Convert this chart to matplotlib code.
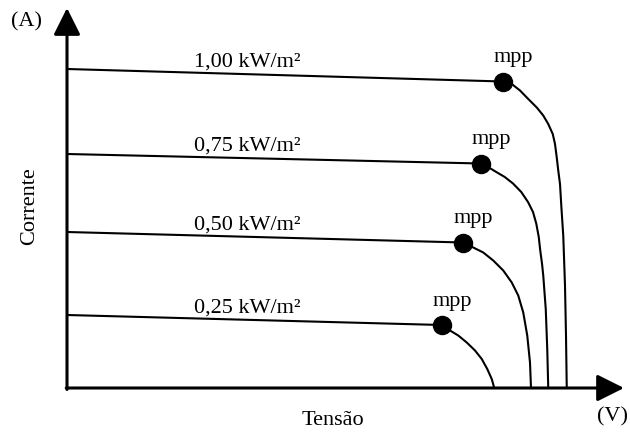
import numpy as np
import matplotlib
matplotlib.use('Agg')
import matplotlib.pyplot as plt

plt.rcParams['font.family'] = ['Liberation Serif', 'DejaVu Serif']

# irradiance labels
irr_labels = ['1,00 kW/m²', '0,75 kW/m²', '0,50 kW/m²', '0,25 kW/m²']

# I-V curves (tensão in V, corrente in A, arbitrary scale)
v_100 = [0, 17.43, 17.79, 18.12, 18.45, 18.79, 19.05, 19.25, 19.43, 19.52, 19.59, 19.65, 19.72,
         19.78, 19.85, 19.92, 19.96, 19.99]
i_100 = [6.38, 6.13, 6.08, 5.95, 5.78, 5.61, 5.45, 5.28, 5.08, 4.88, 4.61, 4.35, 4.08,
         3.58, 3.05, 2.05, 1.05, 0]

v_075 = [0, 16.55, 16.84, 17.17, 17.51, 17.84, 18.17, 18.44, 18.64, 18.77, 18.87, 18.93, 19.0,
         19.05, 19.15, 19.21, 19.25]
i_075 = [4.68, 4.49, 4.42, 4.32, 4.22, 4.09, 3.92, 3.72, 3.52, 3.29, 3.02, 2.75, 2.49,
         2.25, 1.58, 0.78, 0]

v_050 = [0, 15.83, 16.25, 16.65, 17.05, 17.45, 17.79, 18.05, 18.25, 18.41, 18.52, 18.56]
i_050 = [3.12, 2.91, 2.81, 2.71, 2.55, 2.35, 2.11, 1.85, 1.51, 1.05, 0.51, 0]

v_025 = [0, 14.99, 15.32, 15.65, 15.99, 16.32, 16.59, 16.81, 16.99, 17.09]
i_025 = [1.46, 1.26, 1.15, 1.05, 0.91, 0.75, 0.58, 0.38, 0.18, 0]

# maximum power points
mpp_v = [17.43, 16.55, 15.83, 14.99]
mpp_i = [6.13, 4.49, 2.91, 1.26]

curves = [(v_100, i_100), (v_075, i_075), (v_050, i_050), (v_025, i_025)]

fig = plt.figure(figsize=(6.3, 4.35), dpi=100)
ax = fig.add_axes([0, 0, 1, 1])
ax.set_xlim(-2.68, 22.52)
ax.set_ylim(-0.92, 7.78)
ax.axis('off')

# axes with arrow heads
arrow = dict(arrowstyle='-|>,head_length=1.1,head_width=0.55', lw=2.2,
             color='black', mutation_scale=15, shrinkA=0, shrinkB=0)
ax.annotate('', xy=(0, 7.6), xytext=(0, -0.03), arrowprops=arrow)
ax.annotate('', xy=(22.28, 0), xytext=(-0.03, 0), arrowprops=arrow)

for (v, i), lab in zip(curves, irr_labels):
    ax.plot(v, i, color='black', lw=1.5, solid_capstyle='butt', solid_joinstyle='round')
    xl = 7.2
    yl = np.interp(xl, v[:2], i[:2])
    ax.annotate(lab, xy=(xl, yl), xytext=(0, 6), textcoords='offset points',
                ha='center', va='baseline', fontsize=16)

ax.plot(mpp_v, mpp_i, 'o', color='black', markersize=13, zorder=5)
for v, i in zip(mpp_v, mpp_i):
    ax.annotate('mpp', xy=(v, i), xytext=(7.4, 17.8), textcoords='offset points',
                ha='center', va='center', fontsize=16)

ax.text(-1.6, 7.34, '(A)', ha='center', va='center', fontsize=16)
ax.text(-1.48, 3.66, 'Corrente', ha='center', va='center', rotation=90, fontsize=16)
ax.text(10.64, -0.64, 'Tensão', ha='center', va='center', fontsize=16)
ax.text(21.84, -0.56, '(V)', ha='center', va='center', fontsize=16)

plt.savefig('out.png', dpi=100)
